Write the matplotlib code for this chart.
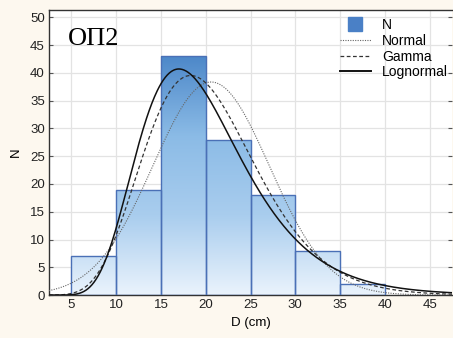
import math
import numpy as np
import matplotlib.pyplot as plt
from matplotlib.colors import LinearSegmentedColormap
from matplotlib.patches import Rectangle
from matplotlib.lines import Line2D

# гистограмма (ширина класса 5 см)
bin_left = [5, 10, 15, 20, 25, 30, 35]
counts = [7, 19, 43, 28, 18, 8, 2]
bin_width = 5
n_total = sum(counts)

# параметры подогнанных распределений (оценены по картинке)
normal_mean, normal_sd = 20.6, 6.5
gamma_k, gamma_theta = 9.6, 2.13
lognorm_mu, lognorm_sigma = 2.949, 0.34

x_ticks = [5, 10, 15, 20, 25, 30, 35, 40, 45]
y_ticks = [0, 5, 10, 15, 20, 25, 30, 35, 40, 45, 50]

plt.rcParams['font.family'] = ['Liberation Sans', 'DejaVu Sans']

fig = plt.figure(figsize=(4.53, 3.38), dpi=100, facecolor='#fdf8ef')
ax = fig.add_axes([0.108, 0.127, 0.890, 0.843])
ax.set_xlim(2.5, 47.5)
ax.set_ylim(0, 51.3)

cmap = LinearSegmentedColormap.from_list('bars', ['#eaf3fc', '#a9cdee', '#8bbbe6', '#4d88c9'])
grad = np.linspace(0, 1, 256).reshape(-1, 1)
for x0, h in zip(bin_left, counts):
    im = ax.imshow(grad, cmap=cmap, origin='lower', aspect='auto',
                   extent=[2.5, 47.5, 0, 43], vmin=0, vmax=1, zorder=2)
    rect = Rectangle((x0, 0), bin_width, h, facecolor='none', edgecolor='#4a70b6',
                     lw=1.0, zorder=3)
    ax.add_patch(rect)
    im.set_clip_path(rect)

x = np.linspace(2.5, 47.5, 600)
scale = n_total * bin_width
y_norm = scale * np.exp(-(x - normal_mean) ** 2 / (2 * normal_sd ** 2)) / (normal_sd * math.sqrt(2 * math.pi))
y_gamma = scale * np.exp((gamma_k - 1) * np.log(x) - x / gamma_theta
                         - math.lgamma(gamma_k) - gamma_k * math.log(gamma_theta))
y_logn = scale * np.exp(-(np.log(x) - lognorm_mu) ** 2 / (2 * lognorm_sigma ** 2)) / (
    x * lognorm_sigma * math.sqrt(2 * math.pi))

ax.plot(x, y_norm, ls=(0, (1, 1.2)), color='#666666', lw=0.8, zorder=4)
ax.plot(x, y_gamma, ls=(0, (3, 2)), color='#333333', lw=0.9, zorder=4)
ax.plot(x, y_logn, '-', color='#111111', lw=1.1, zorder=4)

ax.set_xticks(x_ticks)
ax.set_yticks(y_ticks)
ax.grid(True, color='#e3e3e3', lw=0.9, zorder=0)
ax.set_axisbelow(True)
ax.tick_params(labelsize=9.5, length=0, pad=3, colors='#222222')
ax.tick_params(axis='y', right=True, direction='in', length=3, color='#555555')
ax.spines['right'].set_visible(False)
for s in ['left', 'bottom', 'top']:
    ax.spines[s].set_color('#333333')
    ax.spines[s].set_linewidth(1.0)

ax.set_xlabel('D (cm)', fontsize=9.5, labelpad=4)
ax.set_ylabel('N', fontsize=9.5, labelpad=6)
ax.text(4.6, 45.0, 'ОП2', family=['Liberation Serif', 'DejaVu Serif'], fontsize=19, zorder=5)

handles = [
    Line2D([], [], ls='none', marker='s', markersize=10, markerfacecolor='#4a80c6',
           markeredgecolor='#4a80c6'),
    Line2D([], [], ls=(0, (1, 1.2)), color='#666666', lw=0.8),
    Line2D([], [], ls=(0, (3, 2)), color='#333333', lw=0.9),
    Line2D([], [], ls='-', color='#111111', lw=1.4),
]
ax.legend(handles, ['N', 'Normal', 'Gamma', 'Lognormal'], loc='upper left',
          bbox_to_anchor=(0.712, 0.986), frameon=False, fontsize=10,
          handlelength=2.2, handletextpad=0.8, labelspacing=0.12,
          borderaxespad=0.1, borderpad=0.2)

fig.savefig('out.png', dpi=100, facecolor=fig.get_facecolor())
